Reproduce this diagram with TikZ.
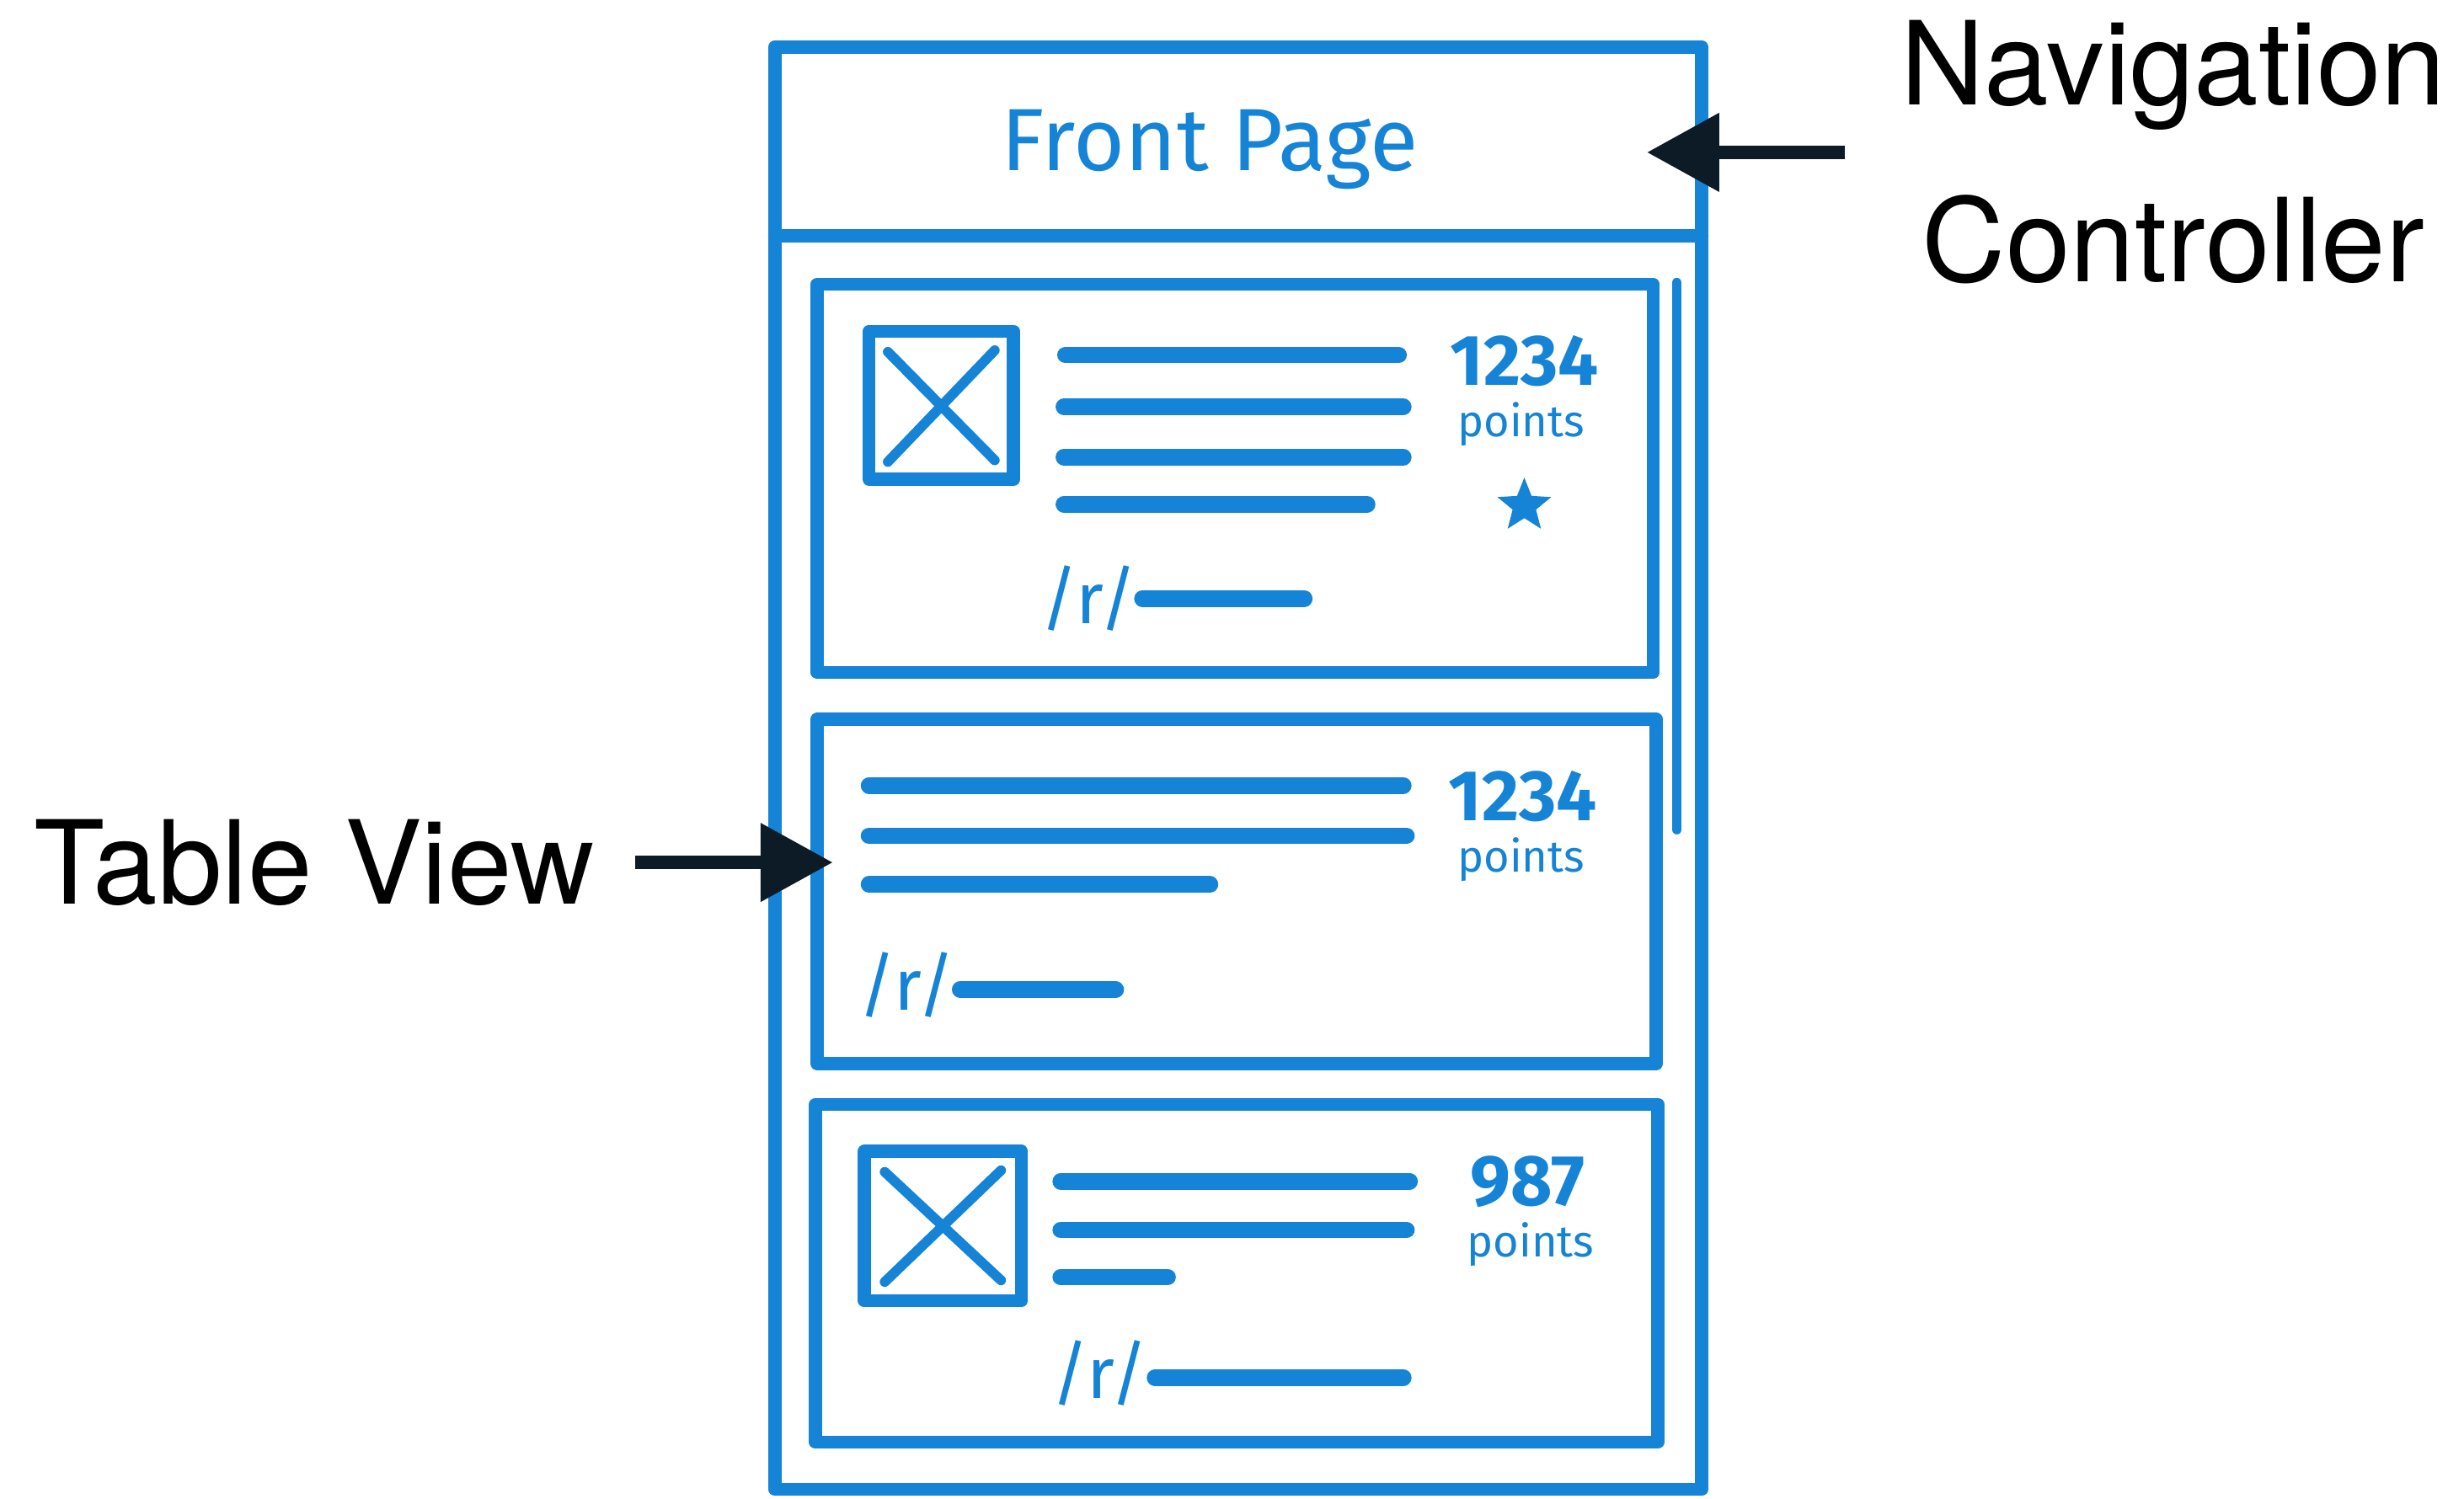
\documentclass[tikz,border=0pt]{standalone}
\usepackage{fontspec}
\setmainfont{TeX Gyre Heros}
\newfontfamily\handfont{Fira Sans}
\usepackage{tikz}
\usetikzlibrary{arrows.meta,positioning,shapes.geometric,calc}
\definecolor{SketchBlue}{RGB}{22, 132, 214}
\definecolor{InkNavy}{RGB}{12, 27, 38}
\tikzset{
  sketch/.style={draw=SketchBlue, line width=2.4pt, line cap=round, line join=round},
  bar/.style={draw=SketchBlue, line width=3.0pt, line cap=round},
  hand/.style={text=SketchBlue, font=\handfont\fontsize{13}{13}\selectfont, inner sep=0pt},
  score/.style={text=SketchBlue, font=\handfont\bfseries\fontsize{13}{13}\selectfont, inner sep=0pt},
  pts/.style={text=SketchBlue, font=\handfont\fontsize{8}{8}\selectfont, inner sep=0pt},
  callout/.style={font=\fontsize{21}{32}\selectfont, inner sep=0pt, align=center},
  bigarrow/.style={draw=InkNavy, line width=2.4pt, -{Triangle[length=4.6mm, width=4.8mm]}}
}

\begin{document}
\begin{tikzpicture}[x=1cm, y=-1cm]
        \useasboundingbox (0,0) rectangle (15.68,9.54);

        % Frame and nav bar
        \draw[sketch] (4.93,0.30) rectangle (10.83,9.48);
        \draw[sketch] (4.93,1.50) -- (10.83,1.50);
        \node[hand, font=\handfont\fontsize{16}{16}\selectfont] (title) at (7.70,0.95) {Front Page};
        \draw[sketch, line width=1.8pt] (10.67,1.80) -- (10.67,5.28);

        % Cell 1
        \draw[sketch] (5.20,1.81) rectangle (10.52,4.28);
        \draw[sketch] (5.53,2.11) rectangle (6.45,3.05);
        \draw[sketch, line width=1.8pt] (5.65,2.24) -- (6.33,2.93) (6.33,2.23) -- (5.65,2.94);
        \draw[bar] (6.78,2.26) -- (8.90,2.26);
        \draw[bar] (6.77,2.59) -- (8.93,2.59);
        \draw[bar] (6.77,2.91) -- (8.93,2.91);
        \draw[bar] (6.77,3.21) -- (8.70,3.21);
        \node[score] (score1) at (9.70,2.30) {1234};
        \node[pts] (pts1) at (9.68,2.70) {points};
        \node[star, star points=5, star point ratio=2.3, fill=SketchBlue, inner sep=0pt, minimum size=0.36cm] (star1) at (9.70,3.22) {};
        \node[hand] (sub1) at (6.93,3.81) {/r/};
        \draw[bar] (7.27,3.81) -- (8.30,3.81);

        % Cell 2
        \draw[sketch] (5.20,4.58) rectangle (10.54,6.77);
        \draw[bar] (5.53,5.00) -- (8.93,5.00);
        \draw[bar] (5.53,5.32) -- (8.95,5.32);
        \draw[bar] (5.53,5.63) -- (7.70,5.63);
        \node[score] (score2) at (9.69,5.07) {1234};
        \node[pts] (pts2) at (9.68,5.47) {points};
        \node[hand] (sub2) at (5.77,6.27) {/r/};
        \draw[bar] (6.11,6.30) -- (7.10,6.30);

        % Cell 3
        \draw[sketch] (5.19,7.03) rectangle (10.55,9.18);
        \draw[sketch] (5.50,7.33) rectangle (6.50,8.28);
        \draw[sketch, line width=1.8pt] (5.63,7.46) -- (6.37,8.15) (6.37,7.45) -- (5.63,8.16);
        \draw[bar] (6.75,7.52) -- (8.97,7.52);
        \draw[bar] (6.75,7.83) -- (8.95,7.83);
        \draw[bar] (6.75,8.13) -- (7.43,8.13);
        \node[score] (score3) at (9.72,7.52) {987};
        \node[pts] (pts3) at (9.74,7.92) {points};
        \node[hand] (sub3) at (7.00,8.74) {/r/};
        \draw[bar] (7.35,8.77) -- (8.93,8.77);

        % Callouts
        \node[callout] (navlbl) at (13.83,0.97) {Navigation\\Controller};
        \coordinate (navtip) at (10.48,0.97);
        \draw[bigarrow] ([xshift=-0.35cm]navlbl.west) -- (navtip);

        \node[callout] (tvlbl) at (2.00,5.49) {Table View};
        \coordinate (tvtip) at (5.30,5.49);
        \draw[bigarrow] ([xshift=0.25cm]tvlbl.east) -- (tvtip);
      \end{tikzpicture}
\end{document}
